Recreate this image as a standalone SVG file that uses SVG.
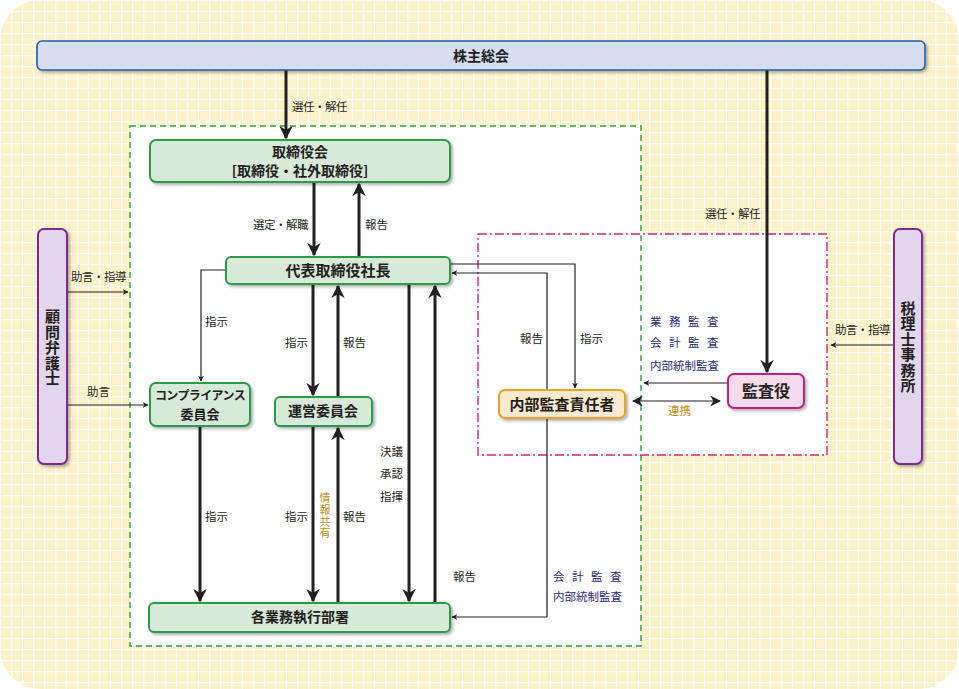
<svg xmlns="http://www.w3.org/2000/svg" width="959" height="689" viewBox="0 0 959 689">
<defs>
<pattern id="grid" width="11" height="11" patternUnits="userSpaceOnUse">
<rect width="11" height="11" fill="#fcf1c7"/>
<path d="M0 0.5H11M0.5 0V11" stroke="#ffffff" stroke-width="1.6" stroke-opacity="0.85"/>
</pattern>
<filter id="sh" x="-10%" y="-20%" width="130%" height="160%">
<feDropShadow dx="2" dy="2" stdDeviation="1.5" flood-color="#000" flood-opacity="0.3"/>
</filter>
<marker id="ah" viewBox="0 0 10 10" refX="9" refY="5" markerWidth="6" markerHeight="6" markerUnits="userSpaceOnUse" orient="auto">
<path d="M0 0L10 5L0 10L3 5Z" fill="#231f20"/>
</marker>
<marker id="ahB" viewBox="0 0 10 10" refX="9" refY="5" markerWidth="4.5" markerHeight="4.5" orient="auto">
<path d="M0 0L10 5L0 10L3 5Z" fill="#231f20"/>
</marker>
<marker id="ahT" viewBox="0 0 10 10" refX="9" refY="5" markerWidth="11" markerHeight="11" markerUnits="userSpaceOnUse" orient="auto-start-reverse">
<path d="M0 0L10 5L0 10L3 5Z" fill="#231f20"/>
</marker>
</defs>
<style>
text{font-family:"Noto Sans CJK JP","Noto Sans",sans-serif;fill:#231f20}
.lbl{font-size:11.5px}
.nt{font-size:14px;font-weight:bold;text-anchor:middle}
.vt{writing-mode:vertical-rl;text-anchor:middle}
.navy{fill:#2b2b7a}
.org{fill:#c98a10}
.g{fill:#d7e9d7;stroke:#2c9c4a;stroke-width:2}
.thick{stroke:#231f20;stroke-width:3;fill:none}
.thin{stroke:#231f20;stroke-width:1.2;fill:none}
</style>
<rect width="959" height="689" fill="#ffffff"/>
<rect x="0" y="0" width="959" height="689" rx="40" fill="url(#grid)"/>
<rect x="130" y="126" width="511" height="520" fill="#ffffff"/>
<rect x="478" y="234" width="349" height="221" fill="#ffffff"/>
<rect x="130" y="126" width="511" height="520" fill="none" stroke="#2c9c4a" stroke-width="1.4" stroke-dasharray="6,4"/>
<rect x="478" y="234" width="349" height="221" fill="none" stroke="#d4237f" stroke-width="1.4" stroke-dasharray="9,3,2,3"/>

<g id="connectors">
<line class="thick" x1="286" y1="70" x2="286" y2="138" marker-end="url(#ahB)"/>
<line class="thick" x1="767" y1="70" x2="767" y2="372" marker-end="url(#ahB)"/>
<line class="thick" x1="314" y1="182" x2="314" y2="255" marker-end="url(#ahB)"/>
<line class="thick" x1="359" y1="257" x2="359" y2="184" marker-end="url(#ahB)"/>
<polyline class="thin" points="226,270 201,270 201,381" marker-end="url(#ah)"/>
<line class="thick" x1="313" y1="284" x2="313" y2="395" marker-end="url(#ahB)"/>
<line class="thick" x1="338" y1="397" x2="338" y2="286" marker-end="url(#ahB)"/>
<line class="thick" x1="409" y1="284" x2="409" y2="601" marker-end="url(#ahB)"/>
<line class="thick" x1="435" y1="603" x2="435" y2="286" marker-end="url(#ahB)"/>
<line class="thick" x1="200" y1="426" x2="200" y2="601" marker-end="url(#ahB)"/>
<line class="thick" x1="313" y1="426" x2="313" y2="601" marker-end="url(#ahB)"/>
<line class="thick" x1="338" y1="603" x2="338" y2="428" marker-end="url(#ahB)"/>
<polyline class="thin" points="450,264 575,264 575,388" marker-end="url(#ah)"/>
<polyline class="thin" points="547,617 547,273 452,273" marker-end="url(#ah)"/>
<line class="thin" x1="547" y1="617" x2="452" y2="617" marker-end="url(#ah)"/>
<line class="thin" x1="728" y1="383" x2="644" y2="383" marker-end="url(#ah)"/>
<line class="thin" x1="633" y1="401" x2="720" y2="401" marker-start="url(#ahT)" marker-end="url(#ahT)"/>
<line class="thin" x1="67" y1="292" x2="128" y2="292" marker-end="url(#ah)"/>
<line class="thin" x1="67" y1="405" x2="148" y2="405" marker-end="url(#ah)"/>
<line class="thin" x1="894" y1="345" x2="831" y2="345" marker-end="url(#ah)"/>
</g>

<g id="labels">
<text class="lbl" x="292" y="111" letter-spacing="-0.5">選任・解任</text>
<text class="lbl" x="705" y="218" letter-spacing="-0.5">選任・解任</text>
<text class="lbl" x="253" y="229" letter-spacing="-0.5">選定・解職</text>
<text class="lbl" x="365" y="229">報告</text>
<text class="lbl" x="205" y="326">指示</text>
<text class="lbl" x="285" y="347">指示</text>
<text class="lbl" x="343" y="347">報告</text>
<text class="lbl" x="380" y="456">決議</text>
<text class="lbl" x="380" y="478">承認</text>
<text class="lbl" x="380" y="501">指揮</text>
<text class="lbl" x="205" y="521">指示</text>
<text class="lbl" x="285" y="521">指示</text>
<text class="lbl" x="343" y="521">報告</text>
<text class="lbl org vt" x="325" y="516" style="font-size:11px" letter-spacing="0.8">情報共有</text>
<text class="lbl" x="520" y="343">報告</text>
<text class="lbl" x="580" y="343">指示</text>
<text class="lbl" x="453" y="581">報告</text>
<text class="lbl navy" x="553" y="581" letter-spacing="7.5">会計監査</text>
<text class="lbl navy" x="553" y="601">内部統制監査</text>
<text class="lbl navy" x="650" y="326" letter-spacing="7.5">業務監査</text>
<text class="lbl navy" x="650" y="347" letter-spacing="7.5">会計監査</text>
<text class="lbl navy" x="650" y="370">内部統制監査</text>
<text class="lbl org" x="668" y="415">連携</text>
<text class="lbl" x="71" y="281" letter-spacing="-0.5">助言・指導</text>
<text class="lbl" x="87" y="396">助言</text>
<text class="lbl" x="835" y="334" letter-spacing="-0.5">助言・指導</text>
</g>

<g id="n-kabunushi">
<rect x="37" y="41" width="888" height="29" rx="5" fill="#d5ddee" stroke="#1f5fb0" stroke-width="1.6" filter="url(#sh)"/>
<text class="nt" x="481" y="61">株主総会</text>
</g>
<g id="n-torishimariyakukai">
<rect class="g" x="150" y="140" width="300" height="42" rx="6" filter="url(#sh)"/>
<text class="nt" x="300" y="158"><tspan x="300" y="157">取締役会</tspan><tspan x="300" y="176">[取締役・社外取締役]</tspan></text>
</g>
<g id="n-daihyo">
<rect class="g" x="226" y="257" width="224" height="27" rx="5" filter="url(#sh)"/>
<text class="nt" x="338" y="276" style="font-size:15px">代表取締役社長</text>
</g>
<g id="n-compliance">
<rect class="g" x="150" y="383" width="100" height="43" rx="6" filter="url(#sh)"/>
<text class="nt" x="200" y="400" style="font-size:12px"><tspan x="200" y="400" letter-spacing="-0.6">コンプライアンス</tspan><tspan x="200" y="419" style="font-size:13px">委員会</tspan></text>
</g>
<g id="n-unei">
<rect class="g" x="275" y="397" width="97" height="29" rx="5" filter="url(#sh)"/>
<text class="nt" x="323" y="416">運営委員会</text>
</g>
<g id="n-kakugyomu">
<rect class="g" x="149" y="603" width="301" height="29" rx="5" filter="url(#sh)"/>
<text class="nt" x="300" y="622">各業務執行部署</text>
</g>
<g id="n-naibukansa">
<rect x="499" y="390" width="126" height="28" rx="6" fill="#fbe9cf" stroke="#eba222" stroke-width="2" filter="url(#sh)"/>
<text class="nt" x="562" y="410" style="font-size:15px">内部監査責任者</text>
</g>
<g id="n-kansayaku">
<rect x="728" y="374" width="76" height="34" rx="6" fill="#f5dced" stroke="#cc1d7f" stroke-width="2" filter="url(#sh)"/>
<text class="nt" x="766" y="397" style="font-size:16px">監査役</text>
</g>
<g id="n-komon">
<rect x="38" y="229" width="29" height="235" rx="6" fill="#e2d6ec" stroke="#7d2a8c" stroke-width="2" filter="url(#sh)"/>
<text class="nt vt" x="52.5" y="348" style="font-size:15px" letter-spacing="0.5">顧問弁護士</text>
</g>
<g id="n-zeirishi">
<rect x="894" y="229" width="28" height="235" rx="6" fill="#e2d6ec" stroke="#7d2a8c" stroke-width="2" filter="url(#sh)"/>
<text class="nt vt" x="908" y="347" style="font-size:15px" letter-spacing="0.5">税理士事務所</text>
</g>
</svg>
